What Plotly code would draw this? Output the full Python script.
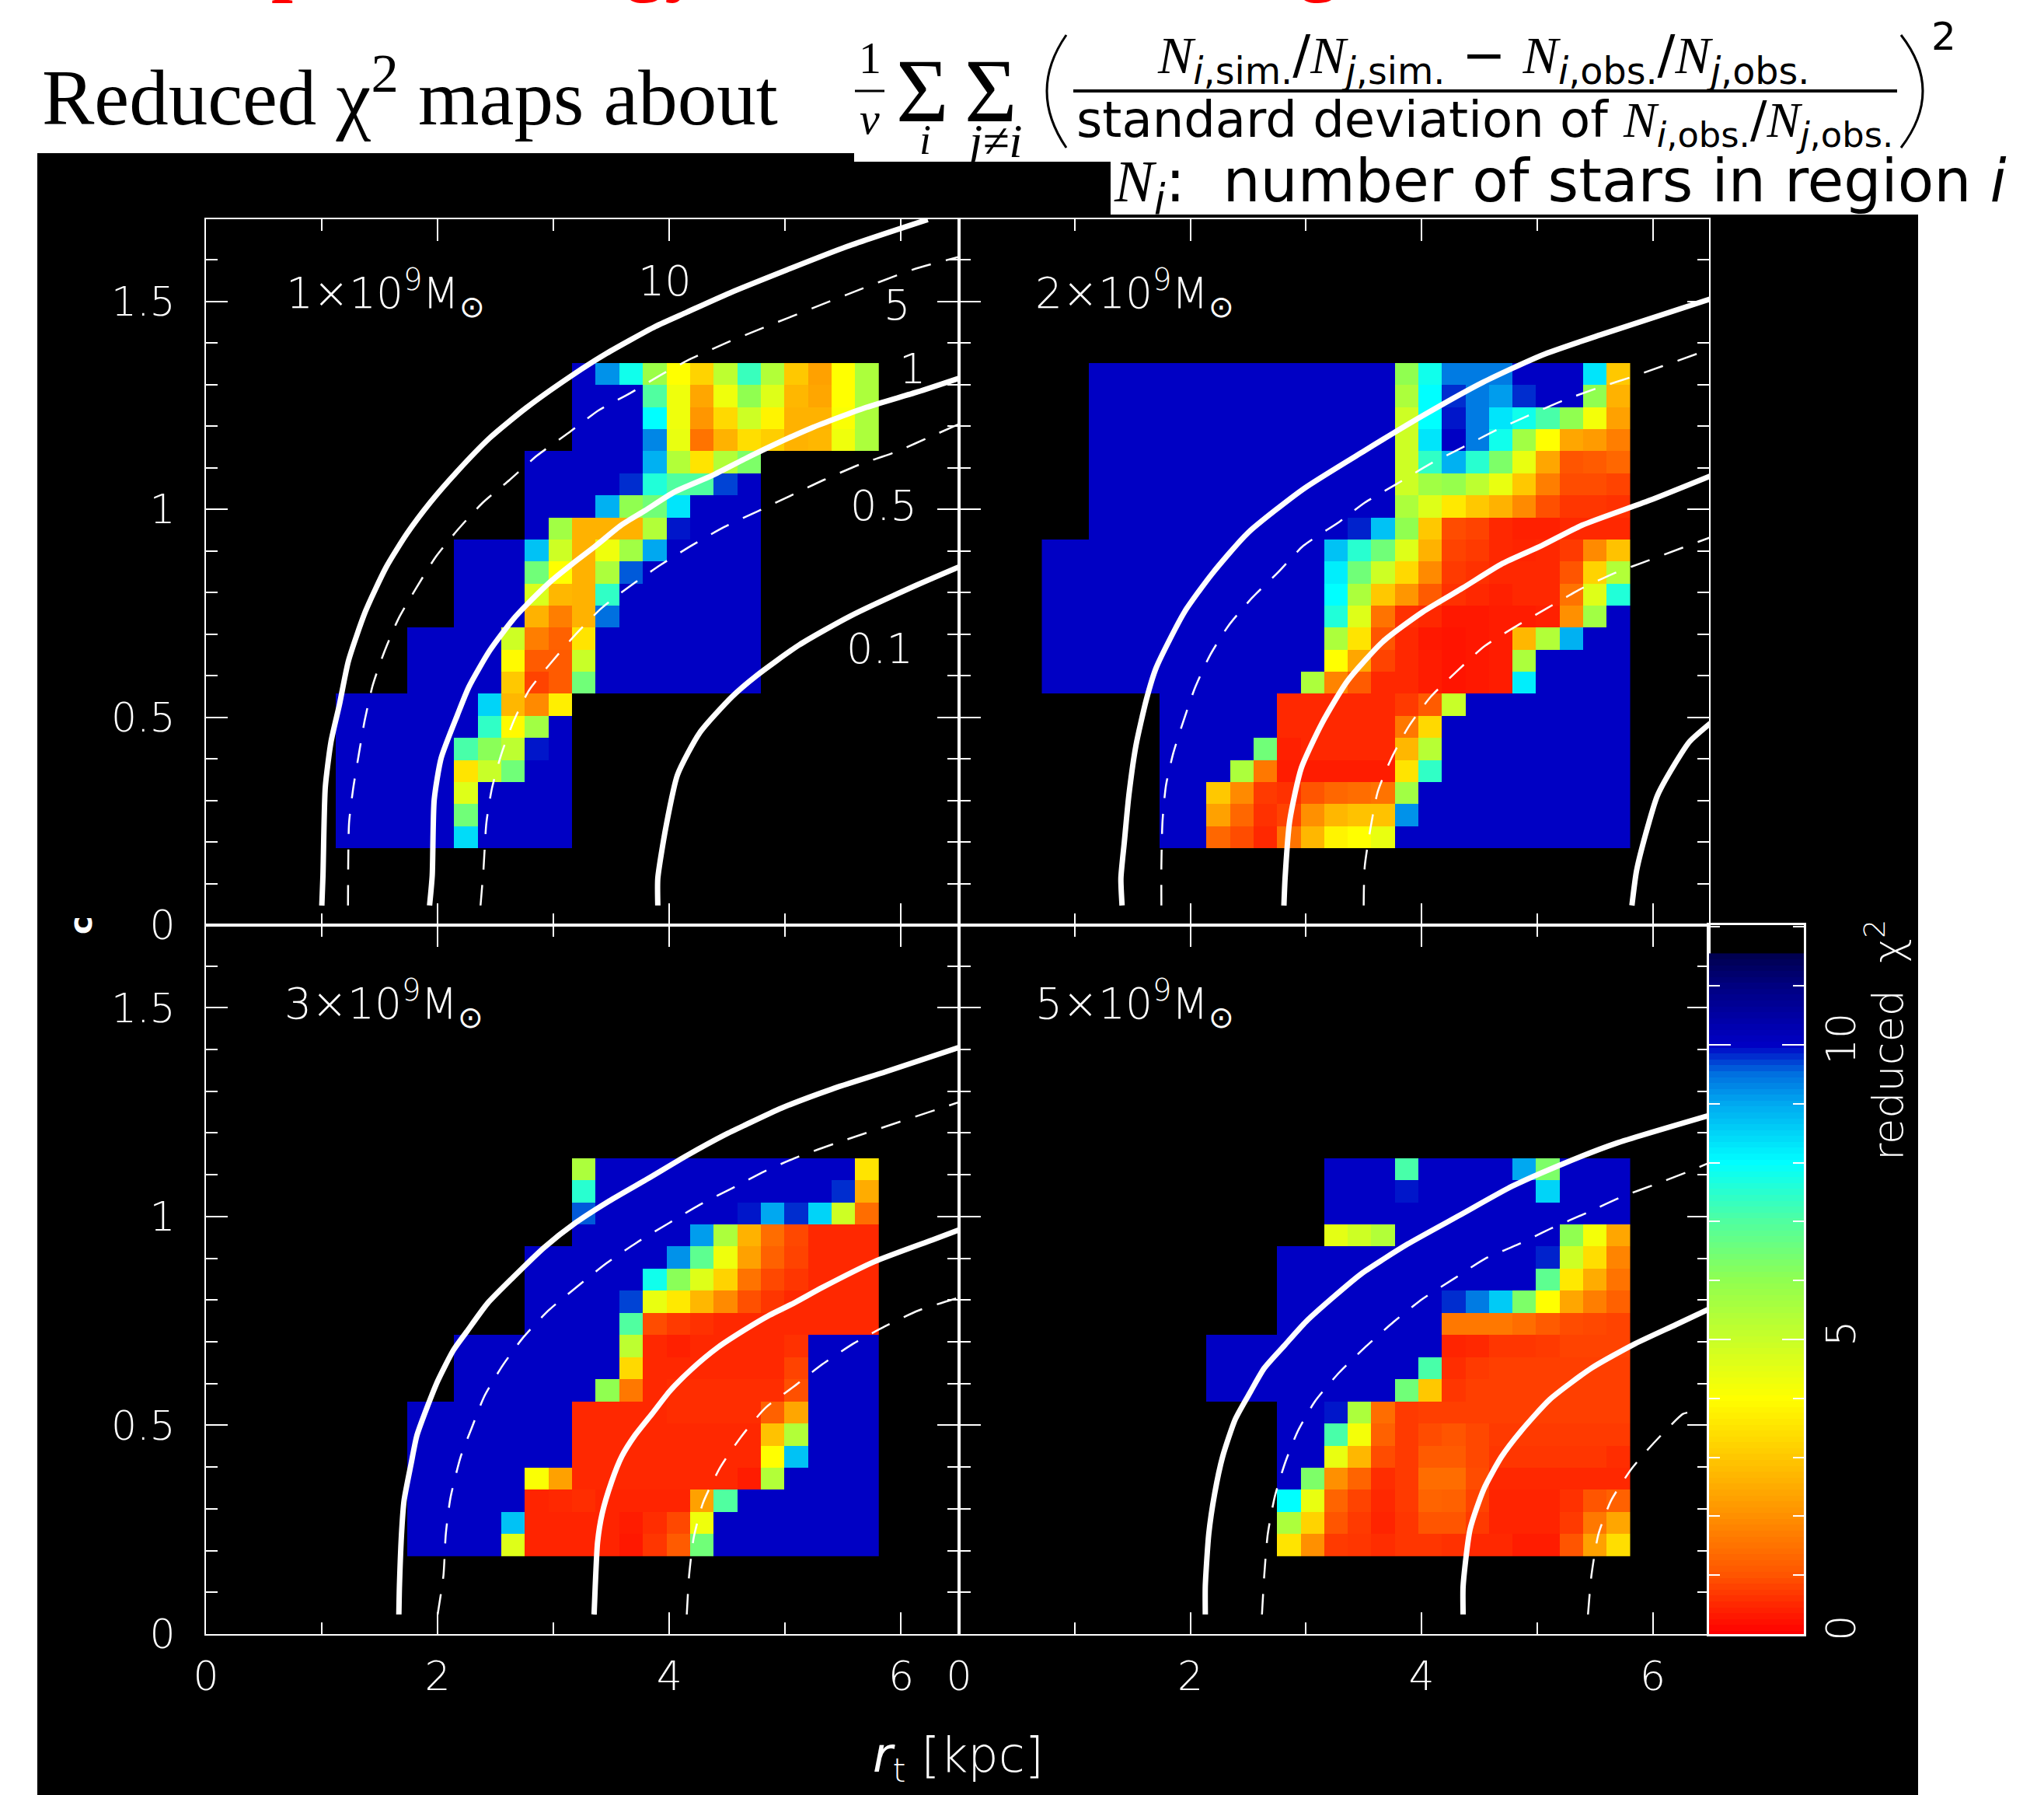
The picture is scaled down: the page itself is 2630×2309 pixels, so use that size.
import numpy as np
import plotly.graph_objects as go

W, H = 2630, 2309
B = 10   # saturated dark-blue cells

# ---- heat-map cells: each row (top to bottom) = (first column, values) ----
chi2_1e9 = [
 (12,[B,9.2,7.8,5.8,4,3.2,5.2,7.3,5.4,3,2.3,4,5.5]),
 (12,[B,B,B,7,4.3,2.4,4.3,6,4.6,2.7,2.4,4,5.5]),
 (12,[B,B,B,8,4.3,2.1,3.3,4.9,3.8,2.6,2.6,4.1,5.5]),
 (12,[B,B,B,9.3,4.4,1.5,2.6,3.4,3.1,2.6,2.7,4.3,5.5]),
 (10,[B,B,B,B,B,8.9,5.4,3.5,5.4,6.3]),
 (10,[B,B,B,B,9.8,7.6,7,7,9.7,B]),
 (10,[B,B,B,8.9,6,6.5,8.3,B,B,B]),
 (10,[B,5.7,2.6,2.6,2.6,5.4,9.9,B,B,B]),
 (7,[B,B,B,8.7,4.9,2.6,4.3,5.7,9,B,B,B,B]),
 (7,[B,B,B,6.5,4,2.6,5.5,9.6,B,B,B,B,B]),
 (7,[B,B,B,4.7,2.7,2.6,7.4,B,B,B,B,B,B]),
 (7,[B,B,B,2.6,1.7,2.6,9.5,B,B,B,B,B,B]),
 (5,[B,B,B,B,4.9,1.7,1.2,3.5]+[B]*7),
 (5,[B,B,B,B,3.9,1.1,1.1,5]+[B]*7),
 (5,[B,B,B,B,3,0.8,1.1,6.5]+[B]*7),
 (2,[B]*6+[8.5,2.7,1.9,3.7]),
 (2,[B]*6+[7.4,3.9,5.7,B]),
 (2,[B]*5+[7.1,6.1,5.2,9.9,B]),
 (2,[B]*5+[3.5,5,6.5,B,B]),
 (2,[B]*5+[4.6,B,B,B,B]),
 (2,[B]*5+[6.5,B,B,B,B]),
 (2,[B]*5+[8.4,B,B,B,B]),
]
chi2_2e9 = [
 (2,[B]*13+[6,7.8,9.4,9.4,9.4,B,B,B,8.3,3]),
 (2,[B]*13+[5.5,8,9.8,9.4,9.1,9.8,B,B,6,2.6]),
 (2,[B]*13+[4.9,8,9.9,9.4,8.3,7.8,7.1,6,4.2,2.3]),
 (2,[B]*13+[4.9,8.3,B,9.4,7.8,5.7,4,2.4,2.2,1.7]),
 (2,[B]*13+[4.9,7.4,8.9,7.5,6.3,4.4,2.4,1,1.1,1.3]),
 (2,[B]*13+[4.9,5.7,5.9,5.2,4.4,3,1.7,.9,.9,.8]),
 (2,[B]*13+[5.5,4.6,3.6,3,2.6,1.9,.95,.65,.65,.6]),
 (2,[B]*11+[9.85,8.7,6,3,.9,.8,.5,.4,.4,.5,.5,.5]),
 (0,[B]*12+[8.7,7.5,6.5,4.6,2.6,.8,.7,.5,.45,.5,.7,1.9,2.9]),
 (0,[B]*12+[8.2,6.5,4.9,3.3,1.9,.7,.6,.5,.5,.5,1,3.2,5.4]),
 (0,[B]*12+[8,5.5,3,2.1,1.1,.6,.5,.4,.5,.5,1.5,4.6,7.6]),
 (0,[B]*12+[7.6,4.6,1.5,.6,.5,.3,.3,.35,.35,.4,2,5.7,B]),
 (0,[B]*12+[5.5,3.5,1,.5,.3,.25,.3,.35,2.7,5.4,8.9,B,B]),
 (0,[B]*12+[4,2.4,.8,.5,.35,.25,.3,.35,5.5,B,B,B,B]),
 (0,[B]*11+[5.5,1.8,1.1,.5,.5,.35,.25,.3,.35,8.2,B,B,B,B]),
 (5,[B]*5+[.5,.5,.5,.5,.5,.7,1.1,5]+[B]*7),
 (5,[B]*5+[.5,.5,.5,.5,.5,1.6,3.3]+[B]*8),
 (5,[B]*4+[6.5,.4,.5,.5,.5,.5,2.7,5.3]+[B]*8),
 (5,[B]*3+[5.5,1.6,.35,.35,.35,.35,.35,3.5,7.4]+[B]*8),
 (5,[B,B,3,1.9,.7,.6,1,1.3,1.4,1.5,5.7]+[B]*9),
 (5,[B,B,2.3,1.3,.6,.8,2,2.7,2.9,2.9,9.2]+[B]*9),
 (5,[B,B,1.3,.9,.5,1.5,2.7,3.8,4,4.4]+[B]*10),
]
chi2_3e9 = [
 (0,[]),(0,[]),(0,[]),(0,[]),
 (12,[5.5]+[B]*11+[3.5]),
 (12,[7.5]+[B]*10+[9.8,2.5]),
 (12,[9.6]+[B]*6+[9.9,9,9.8,8.5,4.9,1.4]),
 (12,[B]*5+[9.1,5.5,2.6,1.4,.85,.5,.5,.5]),
 (10,[B]*6+[9.2,6.8,4.3,2.3,1.2,.8,.5,.5,.5]),
 (10,[B]*5+[7.8,6.1,4.6,3.2,1.5,.85,.65,.5,.5,.5]),
 (10,[B]*4+[9.7,4.4,3.6,2.7,1.9,.95,.65,.5,.5,.5,.5]),
 (10,[B]*4+[7,.9,.7,.6,.5,.5,.5,.5,.5,.5,.5]),
 (7,[B]*7+[5.2,.5,.4,.5,.5,.5,.5,.6,B,B,B]),
 (7,[B]*7+[3.3,.5,.5,.5,.5,.5,.5,.8,B,B,B]),
 (7,[B]*6+[6,1.6,.5,.55,.55,.55,.55,.55,.95,B,B,B]),
 (5,[B]*7+[.5,.5,.5,.5,.55,.55,.55,.55,1.2,2.4,B,B,B]),
 (5,[B]*7+[.5]*8+[2.9,5.4,B,B,B]),
 (5,[B]*7+[.5]*8+[4,8.7,B,B,B]),
 (5,[B]*5+[4.1,2.3]+[.5]*7+[.35,5.4]+[B]*4),
 (5,[B]*5+[.45,.5,.55,.45,.45,.45,.45,2.3,7]+[B]*6),
 (5,[B]*4+[8.7,.45,.45,.45,.45,.35,.55,.85,4.3]+[B]*7),
 (5,[B]*4+[4.6,.45,.45,.45,.45,.3,.65,1.1,6.5]+[B]*7),
]
chi2_5e9 = [
 (0,[]),(0,[]),(0,[]),(0,[]),
 (12,[B,B,B,7.1,B,B,B,B,9,6.3,B,B,B]),
 (12,[B,B,B,9.9,B,B,B,B,B,8.5,B,B,B]),
 (12,[B]*13),
 (12,[4.5,4.9,5.4]+[B]*7+[6,4.2,2.4]),
 (10,[B]*11+[9.85,4.9,3.4,1.8]),
 (10,[B]*11+[6.8,3.6,2.5,1.5]),
 (10,[B]*7+[9.8,9.4,8.6,6.3,4,2.4,1.7,1.2]),
 (10,[B]*7+[1.6,1.6,1.6,1.4,1.1,.9,.85,.8]),
 (7,[B]*10+[.45,.5,.65,.65,.7,.8,.8,.8]),
 (7,[B]*9+[7.1,.55,.7,.75,.75,.75,.75,.75,.75]),
 (7,[B]*8+[6.5,3,.65]+[.75]*7),
 (10,[B,B,9.9,5.5,1.4,.7]+[.75]*9),
 (10,[B,B,7.1,4.2,1.2,.7,.9,1,.85]+[.7]*6),
 (10,[B,B,4.4,2.7,.9,.7,1.1,1.1,.85,.65,.65,.65,.65,.65,.55]),
 (10,[B,6.3,2,1.25,.55,.7,1.4,1.4,.9]+[.5]*6),
 (10,[8,4.4,1.25,.8,.5,.7,1.25,1.2,.8,.45,.45,.45,.6,1,1.2]),
 (10,[5.5,3.2,1,.7,.45,.65,1,1,.7,.45,.45,.45,.7,1.6,2.4]),
 (10,[3.5,2,.7,.65,.55,.65,.65,.6,.5,.5,.35,.35,1,2.3,3.4]),
]

# ---- contour curves: (r_t, c) ----
c1_10 = ([1.0,1.01,1.03,1.08,1.152,1.23,1.376,1.555,1.733,1.935,2.16,2.45,2.76,3.14,3.456,3.88,4.15,4.52,5.53,6.23],
         [.047,.119,.33,.44,.528,.633,.751,.857,.937,1.012,1.084,1.167,1.238,1.313,1.369,1.434,1.468,1.514,1.625,1.69])
c1_5  = ([1.226,1.235,1.27,1.32,1.37,1.44,1.54,1.66,1.816,1.986,2.17,2.39,2.62,2.86,3.13,3.39,3.66,3.94,4.19,4.52,5.53,6.1,6.49],
         [.047,.244,.326,.41,.49,.575,.655,.733,.808,.883,.946,1.012,1.066,1.125,1.179,1.233,1.274,1.32,1.357,1.398,1.51,1.57,1.60])
c1_1  = ([1.93,1.953,1.97,2.03,2.17,2.27,2.45,2.65,2.785,2.987,3.165,3.367,3.59,3.79,4.04,4.37,4.71,5.22,5.70,6.14,6.5],
         [.047,.119,.3,.4,.503,.571,.658,.732,.772,.826,.866,.909,.959,.993,1.037,1.077,1.125,1.19,1.24,1.277,1.31])
c1_05 = ([2.37,2.396,2.42,2.467,2.55,2.655,2.79,2.98,3.19,3.41,3.66,3.92,4.19,4.47,4.76,5.05,5.33,5.65,5.94,6.32,6.5],
         [.047,.136,.244,.326,.41,.488,.563,.629,.696,.758,.812,.862,.909,.953,.991,1.029,1.066,1.104,1.132,1.178,1.2])
c1_01 = ([3.9,3.9,3.97,4.07,4.26,4.54,4.745,5.12,5.56,6.14,6.5],
         [.047,.112,.235,.36,.46,.547,.596,.671,.74,.815,.858])

c2_10 = ([1.41,1.40,1.43,1.468,1.53,1.62,1.706,1.95,2.19,2.50,2.98,3.5,4.01,4.53,5.04,5.56,6.5],
         [.047,.112,.2,.309,.43,.54,.617,.75,.842,.94,1.045,1.135,1.22,1.30,1.365,1.415,1.50])
c2_5  = ([1.75,1.75,1.76,1.79,1.854,1.94,2.04,2.17,2.33,2.535,2.76,2.98,3.29,3.51,3.77,4.07,4.36,4.65,4.92,5.23,5.53,5.84,6.5],
         [.047,.143,.25,.335,.413,.488,.568,.646,.717,.784,.845,.909,.966,1.012,1.054,1.104,1.145,1.186,1.22,1.257,1.287,1.315,1.38])
c2_1  = ([2.81,2.82,2.86,2.96,3.14,3.36,3.67,4.01,4.36,4.70,5.04,5.39,5.97,6.5],
         [.047,.112,.25,.376,.484,.585,.68,.75,.808,.866,.909,.958,1.017,1.076])
c2_05 = ([3.5,3.51,3.62,3.74,3.89,4.08,4.31,4.54,4.80,5.08,5.37,5.66,5.91,6.5],
         [.047,.143,.318,.40,.476,.547,.609,.667,.713,.758,.804,.842,.868,.929])
c2_01 = ([5.82,5.86,5.94,6.04,6.2,6.32,6.5],
         [.047,.13,.219,.31,.39,.44,.484])

c3_10 = ([1.665,1.67,1.69,1.71,1.77,1.82,1.91,2.0,2.136,2.25,2.43,2.65,2.92,3.19,3.48,3.81,4.15,4.48,4.66,4.97,5.4,5.87,6.5],
         [.047,.115,.25,.32,.407,.475,.544,.606,.68,.724,.792,.854,.926,.985,1.037,1.09,1.146,1.196,1.22,1.26,1.305,1.347,1.405])
c3_5  = ([2.0,2.05,2.07,2.11,2.2,2.29,2.40,2.56,2.74,2.96,3.19,3.456,3.72,4.0,4.26,4.55,4.82,5.11,5.43,6.5],
         [.047,.141,.239,.326,.426,.491,.568,.643,.711,.776,.829,.888,.938,.985,1.028,1.069,1.108,1.143,1.175,1.274])
c3_1  = ([3.35,3.36,3.38,3.42,3.50,3.59,3.70,3.86,4.0,4.19,4.42,4.64,4.866,5.07,5.32,5.77,6.27,6.5],
         [.047,.115,.22,.289,.364,.426,.475,.531,.581,.634,.687,.727,.764,.792,.83,.892,.944,.968])
c3_05 = ([4.15,4.17,4.21,4.29,4.44,4.62,4.83,5.07,5.31,5.59,5.86,6.15,6.5],
         [.047,.14,.231,.314,.40,.473,.542,.592,.644,.696,.737,.775,.806])

c4_10 = ([2.13,2.13,2.16,2.21,2.28,2.39,2.52,2.64,2.82,3.0,3.25,3.49,3.88,4.33,4.78,5.23,5.68,6.5],
         [.047,.115,.24,.335,.425,.515,.58,.637,.693,.748,.81,.865,.934,1.003,1.072,1.127,1.175,1.243])
c4_5  = ([2.62,2.64,2.67,2.73,2.82,2.93,3.08,3.29,3.52,3.76,4.01,4.28,4.55,4.84,5.125,5.43,5.73,6.03,6.33,6.5],
         [.047,.141,.239,.328,.41,.486,.558,.627,.689,.748,.803,.851,.899,.934,.972,1.009,1.047,1.078,1.11,1.13])
c4_1  = ([4.36,4.36,4.42,4.54,4.69,4.86,5.11,5.47,5.83,6.2,6.5],
         [.047,.115,.251,.348,.424,.486,.562,.637,.693,.741,.78])
c4_05 = ([5.44,5.47,5.53,5.64,5.82,6.01,6.26,6.31],
         [.047,.141,.239,.32,.397,.458,.527,.531])

panel_data = [chi2_1e9, chi2_2e9, chi2_3e9, chi2_5e9]
panel_solid = [[c1_10, c1_1, c1_01], [c2_10, c2_1, c2_01], [c3_10, c3_1], [c4_10, c4_1]]
panel_dash = [[c1_5, c1_05], [c2_5, c2_05], [c3_5, c3_05], [c4_5, c4_05]]
panel_labels = ["1×10<sup>9</sup>M<sub>⊙</sub>", "2×10<sup>9</sup>M<sub>⊙</sub>",
                "3×10<sup>9</sup>M<sub>⊙</sub>", "5×10<sup>9</sup>M<sub>⊙</sub>"]

# ---- colour scale ----
color_levels = [0, .5, 1, 2, 3, 4, 5, 6, 7, 8, 9, 9.5, 10, 11, 11.5, 12]
color_hex = ["#ff0000", "#ff2800", "#ff5500", "#ff9000", "#ffc800", "#ffff00", "#c8ff28", "#90ff50",
             "#50ffa0", "#00ffff", "#00a8f0", "#0070e0", "#0000c4", "#000080", "#000050", "#000000"]
cscale = [[v / 12, c] for v, c in zip(color_levels, color_hex)]

# grid
x_edges = 0.716 + 0.2036 * np.arange(26)
y_edges = 0.186 + 0.0530 * np.arange(23)

def grid(rows):
    out = []
    for first, vals in rows:
        row = [None] * first + list(vals)
        row += [None] * (25 - len(row))
        assert len(row) == 25
        out.append(row)
    return out[::-1]

fx = lambda p: p / W
fy = lambda p: 1 - p / H

fig = go.Figure()

PANELS = [(265, 1234, 282, 1190, 6.5), (1234, 2199, 282, 1190, 6.487),
          (265, 1234, 1190, 2102, 6.5), (1234, 2199, 1190, 2102, 6.487)]
TICKF = dict(family="DejaVu Sans", size=52, color="white", weight=200)
Y_CAL = [1.0043, 1.0043, 1.0, 1.0]   # curves in the upper row were read on the lower row's scale

for k, (x0, x1, y0, y1, xmax) in enumerate(PANELS):
    n = k + 1
    xa = "x" if n == 1 else f"x{n}"
    ya = "y" if n == 1 else f"y{n}"
    fig.add_trace(go.Heatmap(z=grid(panel_data[k]), x=x_edges, y=y_edges, zmin=0, zmax=12,
                             colorscale=cscale, showscale=False, hoverongaps=False,
                             xaxis=xa, yaxis=ya))
    for cv in panel_solid[k]:
        fig.add_trace(go.Scatter(x=cv[0], y=np.array(cv[1]) * Y_CAL[k], mode="lines", xaxis=xa, yaxis=ya, showlegend=False,
                                 line=dict(color="white", width=7, shape="spline", smoothing=0.6)))
    for cv in panel_dash[k]:
        fig.add_trace(go.Scatter(x=cv[0], y=np.array(cv[1]) * Y_CAL[k], mode="lines", xaxis=xa, yaxis=ya, showlegend=False,
                                 line=dict(color="white", width=2.5, shape="spline", smoothing=0.6,
                                           dash="26px,20px")))
    fig.update_layout({
        ("xaxis" if n == 1 else f"xaxis{n}"): dict(
            domain=[fx(x0), fx(x1)], range=[0, xmax], anchor=ya, showgrid=False, zeroline=False,
            showline=True, linecolor="white", linewidth=2, mirror="ticks",
            ticks="inside", ticklen=28, tickwidth=2, tickcolor="white", dtick=2, tick0=0,
            minor=dict(ticks="inside", ticklen=15, tickwidth=2, tickcolor="white", dtick=1, tick0=0, showgrid=False),
            showticklabels=k >= 2, tickfont=TICKF, ticklabelstandoff=8),
        ("yaxis" if n == 1 else f"yaxis{n}"): dict(
            domain=[fy(y1), fy(y0)], range=[0, 1.698], anchor=xa, showgrid=False, zeroline=False,
            showline=True, linecolor="white", linewidth=2, mirror="ticks",
            ticks="inside", ticklen=28, tickwidth=2, tickcolor="white", dtick=0.5, tick0=0,
            minor=dict(ticks="inside", ticklen=15, tickwidth=2, tickcolor="white", dtick=0.1, tick0=0, showgrid=False),
            showticklabels=k in (0, 2), tickfont=TICKF, ticklabelstandoff=27),
    })

# colour bar
bar_levels = np.arange(0, 11.55, 0.1)
fig.add_trace(go.Heatmap(z=[[v] for v in bar_levels], y=bar_levels, x=[0.5], zmin=0, zmax=12,
                         colorscale=cscale, showscale=False, xaxis="x5", yaxis="y5"))
fig.update_layout(
    xaxis5=dict(domain=[fx(2199), fx(2321)], range=[0, 1], anchor="y5", showgrid=False, zeroline=False,
                showticklabels=False, ticks="", showline=True, linecolor="white", linewidth=2.5, mirror=True),
    yaxis5=dict(domain=[fy(2102), fy(1190)], range=[0, 12.03], anchor="x5", side="right", showgrid=False, zeroline=False,
                showline=True, linecolor="white", linewidth=2.5, mirror="ticks",
                ticks="inside", ticklen=28, tickwidth=2, tickcolor="white", dtick=5, tick0=0,
                minor=dict(ticks="inside", ticklen=14, tickwidth=2, tickcolor="white", dtick=1, tick0=0, showgrid=False),
                tickfont=TICKF, tickangle=-90, ticklabelstandoff=1),
)

ann = []
def text(x, y, s, size, family="DejaVu Sans", color="white", xa="center", ya="middle", angle=0, weight=None):
    f = dict(family=family, size=size, color=color)
    if weight:
        f["weight"] = weight
    ann.append(dict(x=fx(x), y=fy(y), xref="paper", yref="paper", text=s, showarrow=False, font=f,
                    xanchor=xa, yanchor=ya, textangle=angle, borderpad=0, align="left"))

# panel captions
for (px, py), s in zip([(367, 377), (1331, 377), (365, 1291), (1331, 1291)], panel_labels):
    text(px, py, s, 55, xa="left", weight=200)
# contour level labels
for (px, py), s in zip([(855, 361), (1154, 392), (1174, 475), (1137, 651), (1132, 834)],
                       ["10", "5", "1", "0.5", "0.1"]):
    text(px, py, s, 54, weight=200)
# axis titles
text(104, 1190, "c", 40, angle=-90, weight=700)
text(1233, 2261, "<i>r</i><sub>t</sub> [kpc]", 62, weight=200)
text(2425, 1338, "reduced  χ<sup>2</sup>", 54, angle=-90, weight=200)

SERIF = "Liberation Serif"
BK = "black"
# clipped red heading: only the feet of the letters are in the page
for px, s in [(377, "p"), (855, "gy"), (1697, "g")]:
    text(px, -51, s, 100, family=SERIF, color="red", weight=700)
text(527, 118, "Reduced χ<sup>2</sup> maps about", 101, family=SERIF, color=BK)
text(1119, 75, "1", 58, family=SERIF, color=BK)
text(1119, 153, "<i>ν</i>", 58, family=SERIF, color=BK)
text(1187, 117, "Σ", 116, family=SERIF, color=BK)
text(1275, 117, "Σ", 116, family=SERIF, color=BK)
text(1190, 180, "<i>i</i>", 54, family=SERIF, color=BK)
text(1277, 181, "<i>j≠i</i>", 62, family=SERIF, color=BK)
N = "<span style='font-family:Liberation Serif'><i>N</i></span>"
text(1909, 75, f"{N}<sub><i>i</i>,sim.</sub>/{N}<sub><i>j</i>,sim.</sub> − {N}<sub><i>i</i>,obs.</sub>/{N}<sub><i>j</i>,obs.</sub>",
     68, color=BK)
text(1910, 159, f"standard deviation of {N}<sub><i>i</i>,obs.</sub>/{N}<sub><i>j</i>,obs.</sub>", 64, color=BK)
text(2501, 47, "2", 50, color=BK)
text(1432, 238, f"{N}<sub><i>i</i></sub>:\u00a0 number of stars in region <i>i</i>", 76, color=BK, xa="left")

# page furniture
def rect(x0, y0, x1, y1, color):
    return dict(type="rect", xref="paper", yref="paper", x0=fx(x0), x1=fx(x1), y0=fy(y1), y1=fy(y0),
                fillcolor=color, line_width=0, layer="below")
def hline(x0, x1, y, w=3):
    return dict(type="line", xref="paper", yref="paper", x0=fx(x0), x1=fx(x1), y0=fy(y), y1=fy(y),
                line=dict(color="black", width=w))
def paren(xe, xc):
    return dict(type="path", xref="paper", yref="paper",
                path=f"M {fx(xe)},{fy(45)} Q {fx(xc)},{fy(117)} {fx(xe)},{fy(190)}",
                line=dict(color="black", width=3))
shapes = [rect(48, 276, 2468, H + 5, "black"), rect(48, 208, 1429, 280, "black"), rect(48, 197, 1099, 212, "black"),
          hline(1100, 1138, 117), hline(1381, 2441, 117, 4), paren(1372, 1322), paren(2446, 2502)]

fig.update_layout(width=W, height=H, margin=dict(l=0, r=0, t=0, b=0, autoexpand=False), paper_bgcolor="white",
                  plot_bgcolor="black", showlegend=False, shapes=shapes, annotations=ann)
fig.write_html("out.html", post_script="document.body.style.margin='0';", config={"displayModeBar": False})
